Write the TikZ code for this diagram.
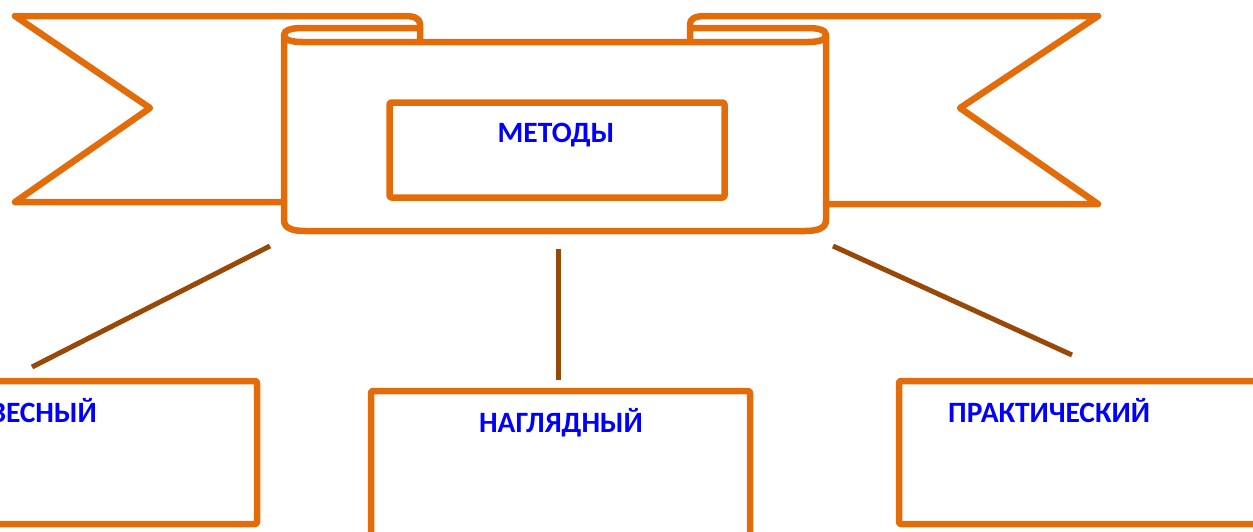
\documentclass[tikz,border=0pt]{standalone}
\usepackage{fontspec}
\setmainfont{Carlito}
\definecolor{orng}{HTML}{E36C0A}
\definecolor{brwn}{HTML}{984807}
\definecolor{txtblue}{HTML}{0000FF}
\begin{document}
\begin{tikzpicture}[x=1pt,y=-1pt,
  ol/.style={draw=orng,line width=6.5pt,line join=round,line cap=round},
  boxst/.style={ol,rectangle,rounded corners=2pt,inner sep=0pt},
  lbl/.style={text=txtblue,font=\fontsize{29.5}{31}\selectfont\bfseries,inner sep=0pt},
  conn/.style={draw=brwn,line width=5pt}]
\useasboundingbox (0,0) rectangle (1253,531);
\clip (0,0) rectangle (1253,531);
% ribbons
\draw[ol] (284,202) -- (15,202) -- (150,108) -- (15,16) -- (405,16)
  .. controls (415,16) and (420,19) .. (420,24) -- (420,42);
\draw[ol] (826,204) -- (1098,204) -- (960,108) -- (1098,16) -- (705,16)
  .. controls (695,16) and (690,19) .. (690,24) -- (690,42);
% scroll front
\draw[ol] (284,35) .. controls (284,40) and (292,42) .. (302,42) -- (808,42)
  .. controls (818,42) and (826,40) .. (826,35) -- (826,220)
  .. controls (826,228) and (818,231) .. (805,231) -- (305,231)
  .. controls (292,231) and (284,228) .. (284,220) -- cycle;
% roll tops
\draw[ol] (284,35) .. controls (284,30) and (292,28) .. (302,28) -- (420,28);
\draw[ol] (690,28) -- (808,28) .. controls (818,28) and (826,30) .. (826,35);
% title box
\node[boxst,minimum width=335pt,minimum height=95pt] (mbox) at (557,150) {};
\node[lbl,anchor=base] (mtxt) at (556,142) {МЕТОДЫ};
% bottom boxes
\node[boxst,minimum width=280pt,minimum height=143pt] (lbox) at (117,452.5) {};
\node[lbl,anchor=base east] (ltxt) at (97,422) {СЛОВЕСНЫЙ};
\node[boxst,minimum width=379pt,minimum height=180pt] (cbox) at (560.5,481) {};
\node[lbl,anchor=base] (ctxt) at (561,432) {НАГЛЯДНЫЙ};
\node[boxst,minimum width=400pt,minimum height=143pt] (rbox) at (1099,452.5) {};
\node[lbl,anchor=base west] (rtxt) at (948,422) {ПРАКТИЧЕСКИЙ};
% connectors
\coordinate (la) at (270,246); \coordinate (lb) at (32,367);
\coordinate (ca) at (558,249); \coordinate (cb) at (558,380);
\coordinate (ra) at (833,246); \coordinate (rb) at (1072,355);
\draw[conn] (la) -- (lb);
\draw[conn] (ca) -- (cb);
\draw[conn] (ra) -- (rb);
\end{tikzpicture}
\end{document}
